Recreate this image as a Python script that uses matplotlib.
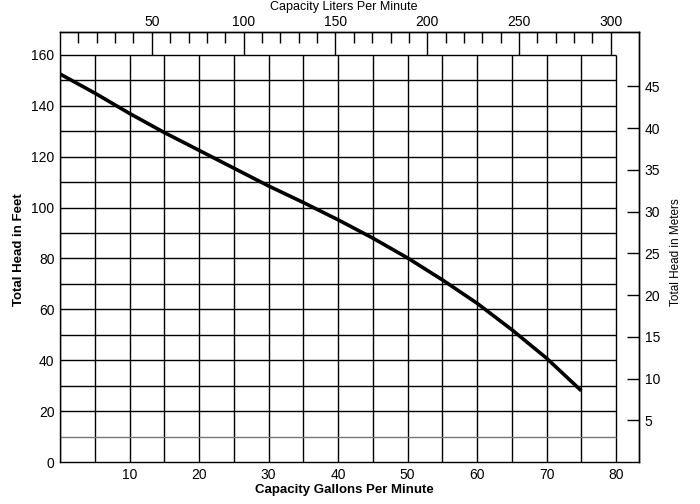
import matplotlib
matplotlib.use("Agg")
import matplotlib.pyplot as plt
import numpy as np

plt.rcParams['font.family'] = ['Liberation Sans', 'DejaVu Sans']

# Data
gpm = [0, 5, 10, 15, 20, 25, 30, 35, 40, 45, 50, 55, 60, 65, 70, 75]
head_ft = [152.5, 145, 137, 129.5, 122.5, 115.5, 108.5, 102, 95.2, 88.0, 80.2, 71.6, 62.4, 52, 40.8, 28]

x_ticks = [10, 20, 30, 40, 50, 60, 70, 80]
y_ticks = [0, 20, 40, 60, 80, 100, 120, 140, 160]
lpm_major = [50, 100, 150, 200, 250, 300]
lpm_minor = list(range(10, 301, 10))
m_ticks = [5, 10, 15, 20, 25, 30, 35, 40, 45]
grid_x = list(range(0, 81, 5))
grid_y = list(range(10, 161, 10))

GAL_TO_L = 3.78541
FT_PER_M = 3.28084

fig = plt.figure(figsize=(7.0, 5.04), dpi=100)
ax = fig.add_axes([60/700, 42/504, 579/700, 430/504])
ax.set_xlim(0, 83.3)
ax.set_ylim(0, 169)

# grid limited to data region
ax.vlines(grid_x, 0, 160, color='black', lw=1.0, zorder=1)
ax.hlines(grid_y, 0, 80, color=['#777777'] + ['black'] * (len(grid_y) - 1), lw=1.0, zorder=1)

ax.plot(gpm, head_ft, color='black', lw=2.6, solid_capstyle='butt', zorder=3)

for s in ax.spines.values():
    s.set_linewidth(1.0)
    s.set_color('black')

ax.set_xticks(x_ticks)
ax.set_yticks(y_ticks)
ax.tick_params(axis='x', length=0, pad=4, labelsize=10)
ax.tick_params(axis='y', length=0, pad=4, labelsize=10)
fig.text(344/700, 1 - 490/504, 'Capacity Gallons Per Minute', fontsize=9.5, fontweight='bold',
         ha='center', va='center')
fig.text(19/700, 1 - 250/504, 'Total Head in Feet', fontsize=9.5, fontweight='bold',
         rotation=90, ha='center', va='center')

# top axis: liters per minute
top = ax.secondary_xaxis('top', functions=(lambda x: x * GAL_TO_L, lambda l: l / GAL_TO_L))
top.set_xticks(lpm_major)
top.set_xticks(lpm_minor, minor=True)
top.tick_params(axis='x', which='major', direction='in', length=16.6, width=1.0, pad=2, labelsize=10)
top.tick_params(axis='x', which='minor', direction='in', length=8, width=1.0)
top.spines['top'].set_linewidth(1.0)
fig.text(344/700, 1 - 7/504, 'Capacity Liters Per Minute', fontsize=9, ha='center', va='center')

# right axis: meters
right = ax.secondary_yaxis('right', functions=(lambda f: f / FT_PER_M, lambda m: m * FT_PER_M))
right.set_yticks(m_ticks)
right.set_yticks([25], minor=True)
right.tick_params(axis='y', which='major', direction='in', length=8.6, width=1.0, pad=4, labelsize=10)
right.tick_params(axis='y', which='minor', direction='in', length=16, width=1.0)
right.spines['right'].set_linewidth(1.0)
fig.text(676/700, 1 - 252/504, 'Total Head in Meters', fontsize=8.5, rotation=90, ha='center', va='center')

fig.savefig('out.png', dpi=100, facecolor='white')
